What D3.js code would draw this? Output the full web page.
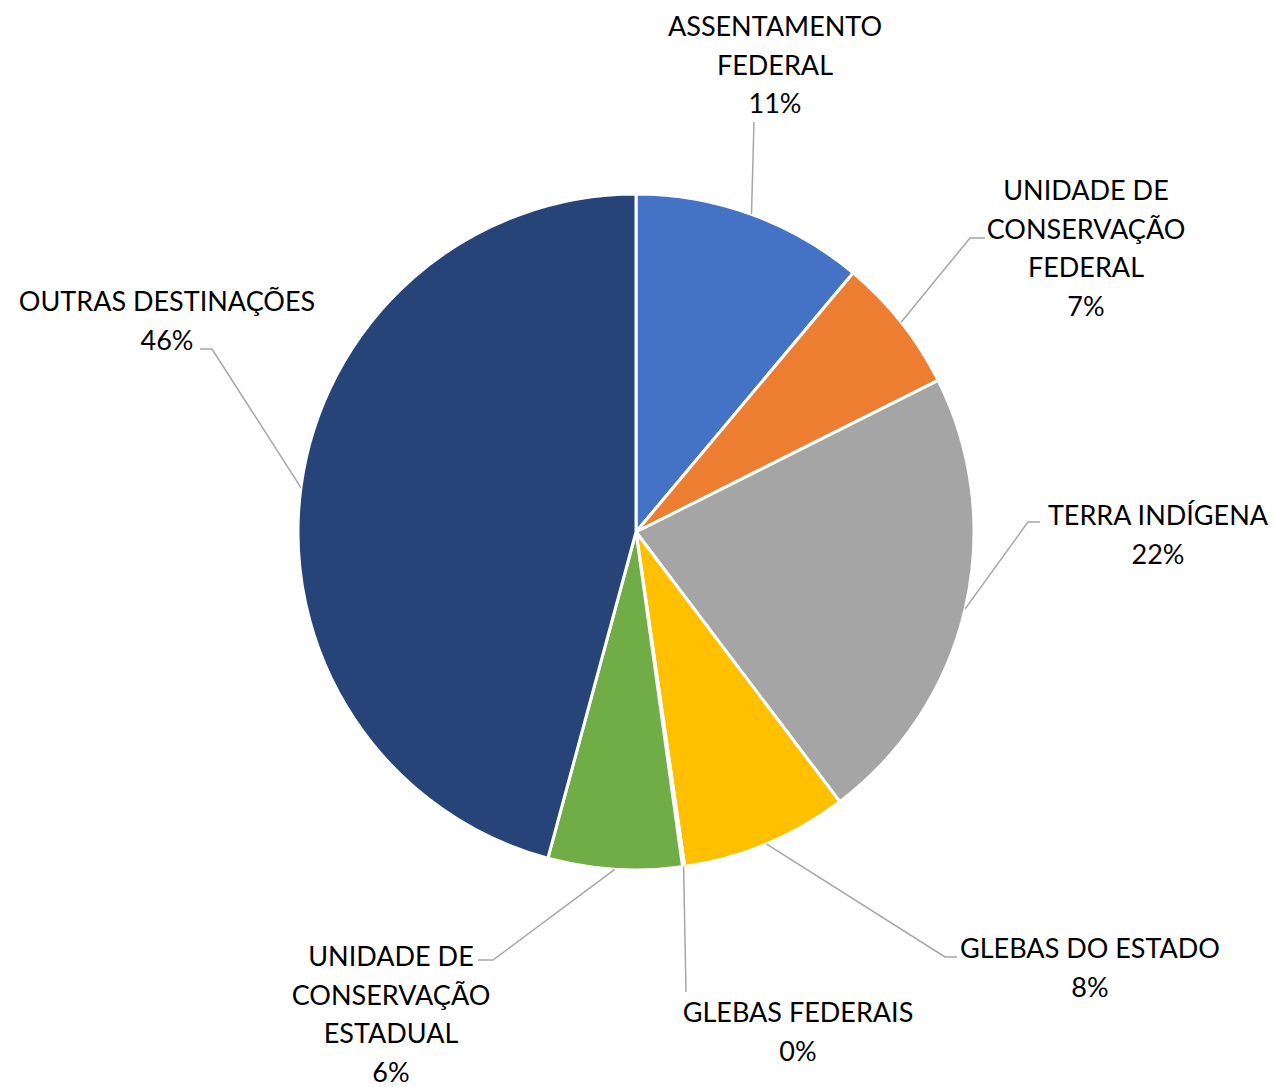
<!DOCTYPE html>
<html>
<head>
<meta charset="utf-8">
<script src="https://cdn.jsdelivr.net/npm/d3@7"></script>
<style>
    body { margin: 0; background: #fff; }
    text { font-family: Lato, "Open Sans", sans-serif; fill: #000; }
</style>
</head>
<body>
<div id="grafica"></div>
<script>
"use strict";

// datos
const categorias = [
    "ASSENTAMENTO\nFEDERAL",
    "UNIDADE DE\nCONSERVAÇÃO\nFEDERAL",
    "TERRA INDÍGENA",
    "GLEBAS DO ESTADO",
    "GLEBAS FEDERAIS",
    "UNIDADE DE\nCONSERVAÇÃO\nESTADUAL",
    "OUTRAS DESTINAÇÕES"
];
const valores = [11.1, 6.5, 22.1, 8.0, 0.1, 6.4, 45.8];
const colores = ["#4472C4", "#ED7D31", "#A5A5A5", "#FFC000", "#5B9BD5", "#70AD47", "#264478"];

// posicion de las etiquetas (layout)
const posEtiquetas = [
    { x: 775, y: 36, linea: [[754, 122]] },
    { x: 1086, y: 200, linea: [[970, 238], [985, 238]] },
    { x: 1158, y: 525, linea: [[1028, 522], [1040, 522]] },
    { x: 1090, y: 958, linea: [[945, 957], [957, 957]] },
    { x: 798, y: 1022, linea: [[686, 992]] },
    { x: 391, y: 966, linea: [[493, 960], [478, 960]] },
    { x: 167, y: 311, linea: [[212, 349], [200, 349]] }
];

const width = 1276, height = 1087;
const cx = 636, cy = 532, radio = 338;
const interlinea = 38.7;

const data = categorias.map((c, i) => ({ titulo: c, valor: valores[i], color: colores[i], pos: posEtiquetas[i] }));
const total = d3.sum(valores);

const svg = d3.select("#grafica").append("svg")
    .attr("width", width)
    .attr("height", height);

const chart = svg.append("g")
    .attr("transform", "translate(" + cx + "," + cy + ")");

const torta = d3.pie().sort(null).value(d => d.valor);
const arcos = d3.arc().innerRadius(0).outerRadius(radio);
const borde = d3.arc().innerRadius(radio).outerRadius(radio);

const slices = torta(data);

chart.selectAll(".arc")
    .data(slices)
    .enter().append("path")
    .attr("class", "arc")
    .attr("d", arcos)
    .attr("fill", d => d.data.color)
    .attr("stroke", "#fff")
    .attr("stroke-width", 3)
    .attr("stroke-linejoin", "round");

// lineas guia
const linea = d3.line();
svg.selectAll(".guia")
    .data(slices)
    .enter().append("path")
    .attr("class", "guia")
    .attr("fill", "none")
    .attr("stroke", "#A6A6A6")
    .attr("stroke-width", 1.5)
    .attr("d", d => {
        const c = borde.centroid(d);
        const inicio = [cx + c[0], cy + c[1]];
        return linea([inicio].concat(d.data.pos.linea));
    });

// etiquetas
const etiquetas = svg.selectAll(".etiqueta")
    .data(slices)
    .enter().append("text")
    .attr("class", "etiqueta")
    .attr("text-anchor", "middle")
    .style("font-size", "27px");

etiquetas.each(function (d) {
    const lineas = d.data.titulo.split("\n").concat([Math.round(d.data.valor * 100 / total) + "%"]);
    const t = d3.select(this);
    lineas.forEach((l, i) => {
        t.append("tspan")
            .attr("x", d.data.pos.x)
            .attr("y", d.data.pos.y + i * interlinea)
            .text(l);
    });
});
</script>
</body>
</html>
